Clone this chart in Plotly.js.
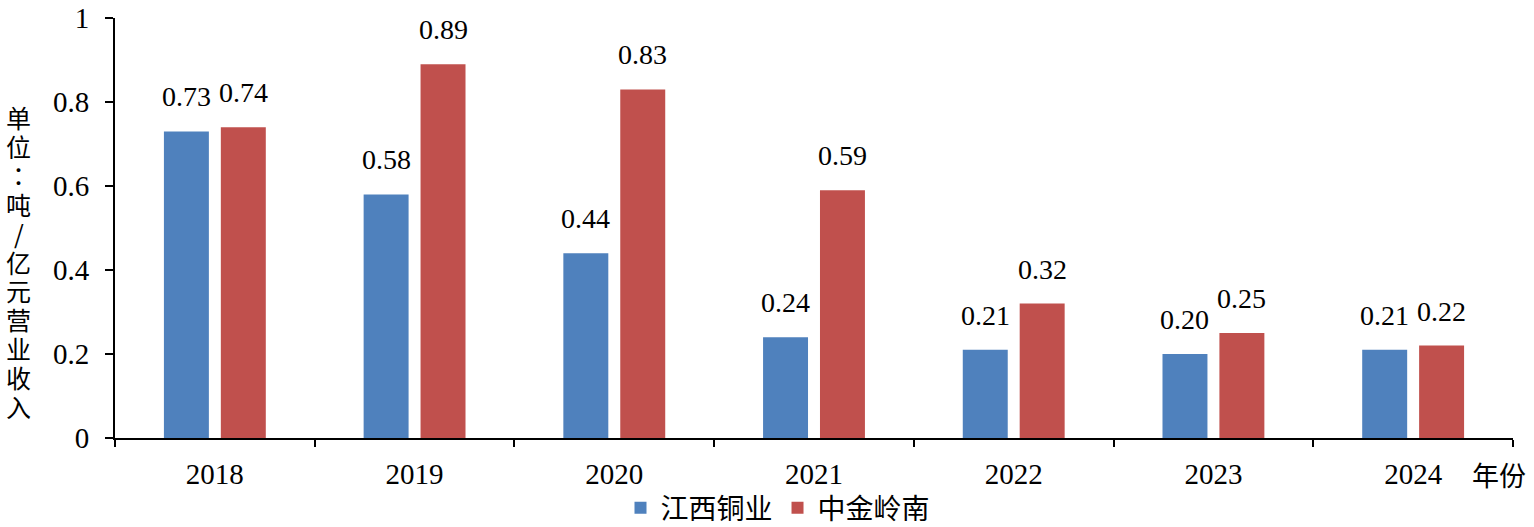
<!DOCTYPE html>
<html>
<head>
<meta charset="utf-8">
<script src="https://cdn.plot.ly/plotly-3.0.1.min.js"></script>
<style>html,body{margin:0;padding:0;background:#fff;}#chart{width:1534px;height:527px;}</style>
</head>
<body>
<div id="chart"></div>
<script>
const years = ["2018", "2019", "2020", "2021", "2022", "2023", "2024"];
const jiangxi = [0.73, 0.58, 0.44, 0.24, 0.21, 0.20, 0.21];
const zhongjin = [0.74, 0.89, 0.83, 0.59, 0.32, 0.25, 0.22];
const seriesNames = ["江西铜业", "中金岭南"];
const yTicks = [0, 0.2, 0.4, 0.6, 0.8, 1];
const yTickText = ["0", "0.2", "0.4", "0.6", "0.8", "1"];
const yTitle = "单位：吨/亿元营业收入";
const xTitle = "年份";

const serif = "Liberation Serif, Times New Roman, serif";
const cjk = "Noto Sans CJK SC, sans-serif";
const cjkTC = "Noto Sans CJK TC, sans-serif";
const blue = "#4F81BD", red = "#C0504D";

const W = 1534, H = 527;
const M = {l: 115, r: 21, t: 18, b: 89};
const plotH = H - M.t - M.b;
const plotW = W - M.l - M.r;

const traces = [
  {type: "bar", x: years, y: jiangxi, name: seriesNames[0], marker: {color: blue}, hoverinfo: "none"},
  {type: "bar", x: years, y: zhongjin, name: seriesNames[1], marker: {color: red}, hoverinfo: "none"}
];

const labelFont = {family: serif, size: 28, color: "#000"};
const annotations = [];
years.forEach((yr, i) => {
  annotations.push({x: i, y: jiangxi[i], xref: "x", yref: "y", text: jiangxi[i].toFixed(2),
    showarrow: false, yanchor: "bottom", xshift: -28.5, yshift: 17, font: labelFont});
  annotations.push({x: i, y: zhongjin[i], xref: "x", yref: "y", text: zhongjin[i].toFixed(2),
    showarrow: false, yanchor: "bottom", xshift: 28.5, yshift: 17, font: labelFont});
});
// vertical (stacked) y-axis title, one character per row
yTitle.split("").forEach((ch, k) => {
  const py = 117 + 28.9 * k;
  annotations.push({xref: "paper", yref: "paper", x: (18.5 - M.l) / plotW, y: (H - M.b - py) / plotH,
    text: ch, showarrow: false, xanchor: "center", yanchor: "middle", borderpad: 0,
    font: {family: ch === "：" ? cjkTC : cjk, size: 25, color: "#000"}});
});
annotations.push({xref: "paper", yref: "paper", x: (1528 - M.l) / plotW, y: (H - M.b - 475) / plotH, text: xTitle,
  showarrow: false, xanchor: "right", yanchor: "middle", font: {family: cjk, size: 27, color: "#000"}});

const layout = {
  width: W, height: H,
  margin: {l: M.l, r: M.r, t: M.t, b: M.b, autoexpand: false},
  paper_bgcolor: "#fff", plot_bgcolor: "#fff",
  barmode: "group", bargap: 0.43, bargroupgap: 0.21,
  showlegend: true,
  legend: {orientation: "h", x: (778 - M.l) / plotW, xanchor: "center", y: (H - M.b - 508) / plotH, yanchor: "middle",
    font: {family: cjk, size: 28, color: "#000"}, itemwidth: 30, tracegroupgap: 0, bgcolor: "rgba(0,0,0,0)"},
  xaxis: {type: "category", range: [-0.5, 6.5], showline: true, linecolor: "#000", linewidth: 2,
    ticks: "outside", ticklen: 7, tickwidth: 2, tickcolor: "#000", tickson: "boundaries", tickangle: 0,
    ticklabelstandoff: 9,
    tickfont: {family: serif, size: 29, color: "#000"}, showgrid: false, zeroline: false, fixedrange: true},
  yaxis: {range: [0, 1], tickvals: yTicks, ticktext: yTickText, showline: true, linecolor: "#000", linewidth: 2,
    ticks: "outside", ticklen: 8, tickwidth: 2, tickcolor: "#000", ticklabelstandoff: 10,
    tickfont: {family: serif, size: 29, color: "#000"}, showgrid: false, zeroline: false, fixedrange: true},
  annotations: annotations
};

Plotly.newPlot("chart", traces, layout, {displayModeBar: false, staticPlot: true});
</script>
</body>
</html>
